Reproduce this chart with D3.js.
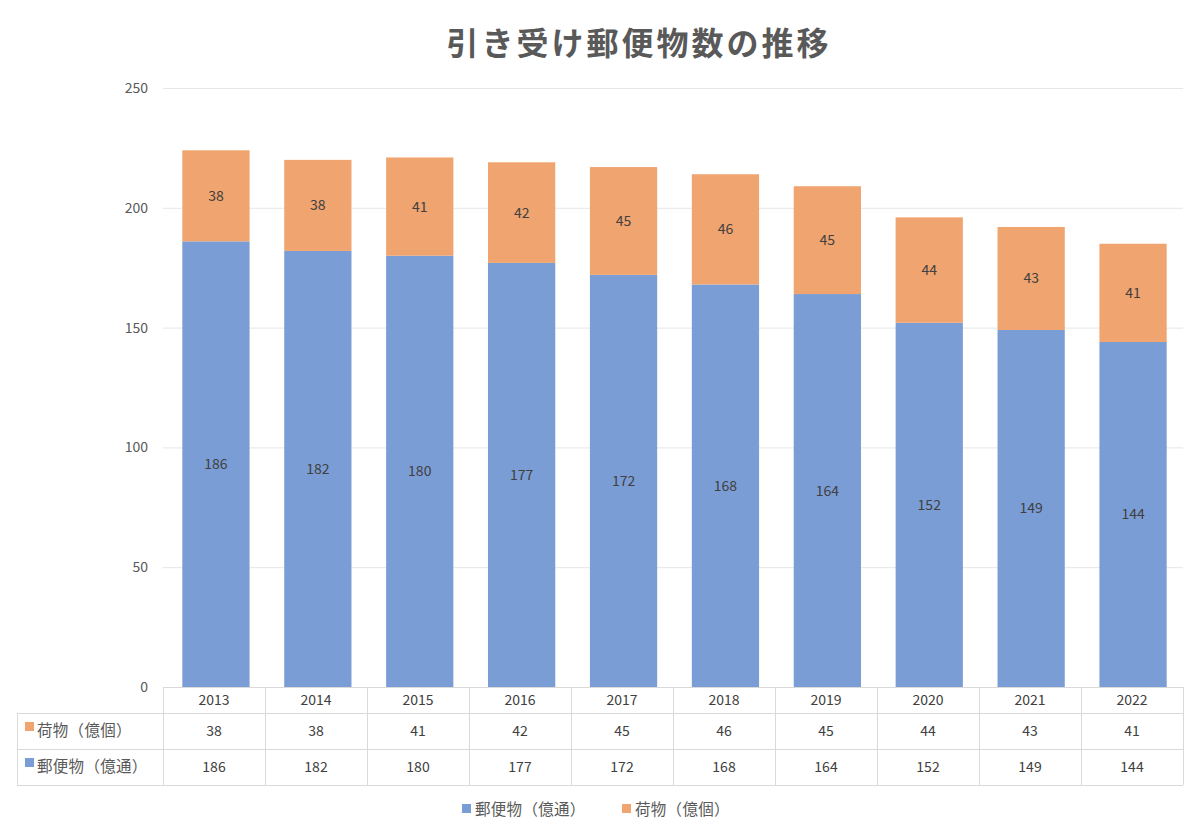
<!DOCTYPE html>
<html>
<head>
<meta charset="utf-8">
<script src="https://d3js.org/d3.v7.min.js"></script>
<style>
  body { margin: 0; background: #fff; }
  svg { font-family: "Noto Sans CJK JP", "Noto Sans", sans-serif; }
  .tick-label { font-size: 14px; fill: #595959; }
  .grid line { stroke: #e6e6e6; }
  .bar-label { font-size: 14px; fill: #404040; text-anchor: middle; }
  .cell-text { font-size: 14px; fill: #404040; text-anchor: middle; }
  .title { font-size: 32px; font-weight: bold; fill: #595959; text-anchor: middle; letter-spacing: 3px; }
</style>
</head>
<body>
<svg id="chart" width="1200" height="832"></svg>
<script>
const years = ["2013", "2014", "2015", "2016", "2017", "2018", "2019", "2020", "2021", "2022"];
const mail = [186, 182, 180, 177, 172, 168, 164, 152, 149, 144];
const parcels = [38, 38, 41, 42, 45, 46, 45, 44, 43, 41];
const yTicks = [0, 50, 100, 150, 200, 250];
const mailName = "郵便物（億通）";
const parcelName = "荷物（億個）";

const blue = "#7b9dd5";
const orange = "#f0a46f";

const svg = d3.select("#chart");

const plotLeft = 163, plotRight = 1183, plotTop = 88, plotBottom = 687;

const x = d3.scaleBand().domain(years).range([plotLeft + 2, plotRight + 1]).paddingInner(0.34).paddingOuter(0.17);
const xCol = d3.scaleBand().domain(years).range([plotLeft, plotRight]);
const y = d3.scaleLinear().domain([0, 250]).range([plotBottom, plotTop]);

svg.append("text")
  .attr("class", "title")
  .attr("x", 639)
  .attr("y", 55)
  .text("引き受け郵便物数の推移");

// gridlines
svg.append("g")
  .attr("class", "grid")
  .selectAll("line")
  .data(yTicks.filter(d => d > 0))
  .enter()
  .append("line")
  .attr("x1", plotLeft)
  .attr("x2", plotRight)
  .attr("y1", d => y(d) + 0.5)
  .attr("y2", d => y(d) + 0.5);

svg.append("g")
  .selectAll("text")
  .data(yTicks)
  .enter()
  .append("text")
  .attr("class", "tick-label")
  .attr("x", 148)
  .attr("y", d => y(d) + 5)
  .attr("text-anchor", "end")
  .text(d => d);

const data = years.map((yr, i) => ({ year: yr, mail: mail[i], parcel: parcels[i] }));

// stacked bars
svg.selectAll(".bar-mail")
  .data(data)
  .enter()
  .append("rect")
  .attr("x", d => x(d.year))
  .attr("y", d => y(d.mail))
  .attr("width", x.bandwidth())
  .attr("height", d => y(0) - y(d.mail))
  .attr("fill", blue);

svg.selectAll(".bar-parcel")
  .data(data)
  .enter()
  .append("rect")
  .attr("x", d => x(d.year))
  .attr("y", d => y(d.mail + d.parcel))
  .attr("width", x.bandwidth())
  .attr("height", d => y(d.mail) - y(d.mail + d.parcel))
  .attr("fill", orange);

svg.selectAll(".lbl-mail")
  .data(data)
  .enter()
  .append("text")
  .attr("class", "bar-label")
  .attr("x", d => x(d.year) + x.bandwidth() / 2)
  .attr("y", d => y(d.mail / 2) + 5)
  .text(d => d.mail);

svg.selectAll(".lbl-parcel")
  .data(data)
  .enter()
  .append("text")
  .attr("class", "bar-label")
  .attr("x", d => x(d.year) + x.bandwidth() / 2)
  .attr("y", d => y(d.mail + d.parcel / 2) + 5)
  .text(d => d.parcel);

// data table
const tbl = svg.append("g");
const lineColor = "#d9d9d9";
const tableLeft = 17;

tbl.append("line").attr("x1", plotLeft).attr("x2", plotRight).attr("y1", plotBottom + 0.5).attr("y2", plotBottom + 0.5).attr("stroke", lineColor);
[713, 749, 785].forEach(yy => {
  tbl.append("line").attr("x1", tableLeft).attr("x2", plotRight).attr("y1", yy + 0.5).attr("y2", yy + 0.5).attr("stroke", lineColor);
});
years.forEach(yr => {
  tbl.append("line").attr("x1", xCol(yr) + 0.5).attr("x2", xCol(yr) + 0.5)
    .attr("y1", plotBottom).attr("y2", 785).attr("stroke", lineColor);
});
tbl.append("line").attr("x1", plotRight + 0.5).attr("x2", plotRight + 0.5).attr("y1", plotBottom).attr("y2", 785).attr("stroke", lineColor);
tbl.append("line").attr("x1", tableLeft + 0.5).attr("x2", tableLeft + 0.5).attr("y1", 713).attr("y2", 785).attr("stroke", lineColor);

tbl.selectAll(".hdr").data(years).enter().append("text")
  .attr("class", "cell-text")
  .attr("x", d => xCol(d) + xCol.bandwidth() / 2)
  .attr("y", 705)
  .text(d => d);

tbl.selectAll(".r1").data(parcels).enter().append("text")
  .attr("class", "cell-text")
  .attr("x", (d, i) => xCol(years[i]) + xCol.bandwidth() / 2)
  .attr("y", 736)
  .text(d => d);

tbl.selectAll(".r2").data(mail).enter().append("text")
  .attr("class", "cell-text")
  .attr("x", (d, i) => xCol(years[i]) + xCol.bandwidth() / 2)
  .attr("y", 772)
  .text(d => d);

[[parcelName, orange, 731], [mailName, blue, 767]].forEach(([name, col, yy]) => {
  tbl.append("rect").attr("x", 25).attr("y", yy - 9).attr("width", 9).attr("height", 9).attr("fill", col);
  tbl.append("text").attr("x", 37).attr("y", yy + 5).attr("font-size", 15.5).attr("fill", "#595959").attr("letter-spacing", 0.3).text(name);
});

// legend
const legend = svg.append("g");
[[mailName, blue, 462], [parcelName, orange, 622]].forEach(([name, col, lx]) => {
  legend.append("rect").attr("x", lx).attr("y", 804).attr("width", 9).attr("height", 9).attr("fill", col);
  legend.append("text").attr("x", lx + 13).attr("y", 815).attr("font-size", 15.5).attr("fill", "#595959").attr("letter-spacing", 0.3).text(name);
});
</script>
</body>
</html>
